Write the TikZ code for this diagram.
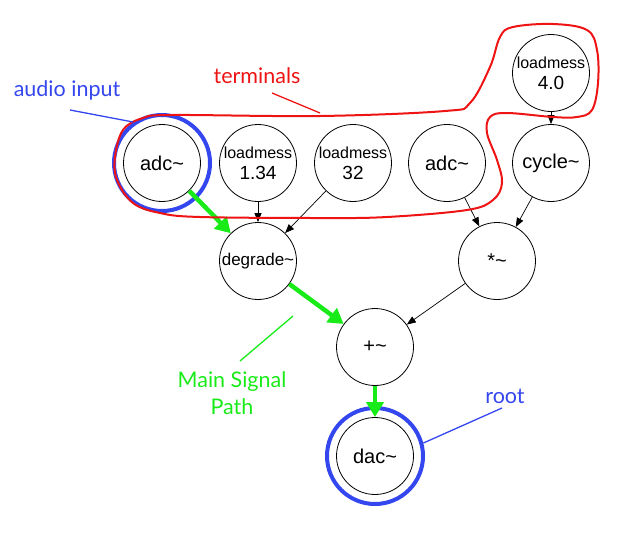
\documentclass[tikz,border=0pt]{standalone}
\usepackage{fontspec}
\setmainfont{Liberation Sans}
\newfontfamily\notefont{Lato}
\usetikzlibrary{positioning}
\usetikzlibrary{arrows.meta}
\definecolor{noteblue}{RGB}{52,70,238}
\definecolor{notegreen}{RGB}{25,235,25}
\definecolor{notered}{RGB}{238,20,20}
\newcommand{\tld}{\textasciitilde}
\tikzset{
obj/.style={circle,draw,line width=0.8pt,minimum size=77pt,inner sep=0pt,align=center,font=\fontsize{20}{21}\selectfont},
msg/.style={obj,font=\fontsize{19}{21}\selectfont},
ring/.style={circle,draw=noteblue,line width=4pt,minimum size=96pt,inner sep=0pt},
wire/.style={-{Triangle[length=9pt,width=7pt]},line width=0.7pt},
sigpath/.style={-{Triangle[length=15pt,width=17pt]},draw=notegreen,line width=4.5pt},
note/.style={font=\notefont\fontsize{21.5}{27}\selectfont,align=center},
pointer/.style={line width=1.3pt}
}
\begin{document}
\begin{tikzpicture}[x=1pt,y=-1pt]
\useasboundingbox (0,0) rectangle (642,536);

\node[obj] (adcin) at (162,163) {adc\tld};
\node[msg] (lmgain) at (258,163) {{\fontsize{16}{21}\selectfont loadmess}\\1.34};
\node[msg] (lmbits) at (353,163) {{\fontsize{16}{21}\selectfont loadmess}\\32};
\node[obj] (adcmod) at (447,163) {adc\tld};
\node[msg] (lmfreq) at (551,73) {{\fontsize{16}{21}\selectfont loadmess}\\4.0};
\node[obj] (cyc) at (551,163) {cycle\tld};
\node[obj,font=\fontsize{17}{20}\selectfont] (degrade) at (258,261) {degrade\tld};
\node[obj] (mult) at (497,261) {*\tld};
\node[obj] (sum) at (375,347) {+\tld};
\node[obj] (dacout) at (375,456) {dac\tld};

\node[ring] (inring) at (adcin) {};
\node[ring] (outring) at (dacout) {};

\draw[wire] (lmgain) -- (degrade);
\draw[wire] (lmbits) -- (degrade);
\draw[wire] (adcmod) -- (mult);
\draw[wire] (cyc) -- (mult);
\draw[wire] (lmfreq) -- (cyc);
\draw[wire] (mult) -- (sum);
\draw[sigpath] (adcin) -- (degrade);
\draw[sigpath] (degrade) -- (sum);
\draw[sigpath] (sum) -- (dacout);

\draw[notered,line width=2pt] plot[smooth cycle,tension=0.6] coordinates {(143,118) (173,115) (320,116) (445,111) (470,103) (490,67) (500,37) (513,27) (553,24) (587,30) (597,50) (598,83) (592,110) (577,117) (553,117) (507,113) (490,117) (487,133) (497,160) (502,183) (493,200) (467,210) (387,217) (320,218) (200,217) (160,213) (133,203) (117,180) (115,157) (123,130)};

\node[note,text=noteblue] (audionote) at (67,90) {audio input};
\node[note,text=notered] (termnote) at (257,76) {terminals};
\node[note,text=notegreen] (pathnote) at (232,393) {Main Signal\\Path};
\node[note,text=noteblue] (rootnote) at (505,396) {root};

\coordinate (audiotail) at (70,110);
\coordinate (termtail) at (272,93);
\coordinate (termhead) at (320,113);
\coordinate (pathtail) at (240,361);
\coordinate (pathhead) at (293,316);
\coordinate (roottail) at (502,408);
\draw[pointer,noteblue] (audiotail) -- (inring.125);
\draw[pointer,notered] (termtail) -- (termhead);
\draw[pointer,notegreen] (pathtail) -- (pathhead);
\draw[pointer,noteblue] (roottail) -- (outring.15);

\end{tikzpicture}
\end{document}
